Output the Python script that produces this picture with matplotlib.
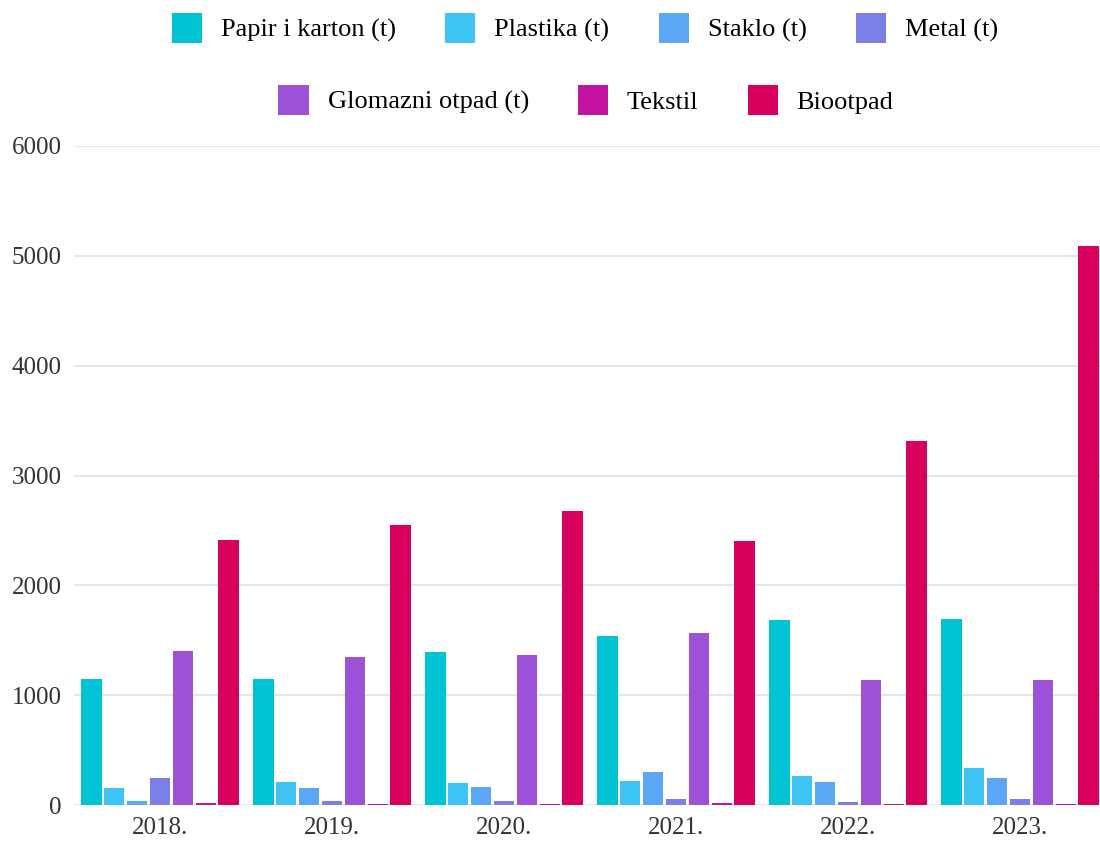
import matplotlib.pyplot as plt
import numpy as np

years = ['2018.', '2019.', '2020.', '2021.', '2022.', '2023.']
series = ['Papir i karton (t)', 'Plastika (t)', 'Staklo (t)', 'Metal (t)',
          'Glomazni otpad (t)', 'Tekstil', 'Biootpad']
papir = [1150, 1145, 1390, 1540, 1680, 1695]
plastika = [155, 205, 200, 220, 265, 335]
staklo = [36, 155, 165, 300, 210, 245]
metal = [245, 36, 36, 55, 27, 55]
glomazni = [1405, 1350, 1365, 1565, 1140, 1140]
tekstil = [15, 8, 8, 15, 5, 10]
biootpad = [2415, 2545, 2680, 2405, 3310, 5085]
colors = ['#00c4d4', '#3ec3f5', '#5ba6f5', '#7a80e8', '#9b52d6', '#c214a0', '#d8005c']

values = [papir, plastika, staklo, metal, glomazni, tekstil, biootpad]

plt.rcParams['font.family'] = ['Liberation Serif', 'DejaVu Serif']

fig = plt.figure(figsize=(11, 8.41), dpi=100)
ax = fig.add_axes([74/1100, 36/841, 1032/1100, 659/841])

x = np.arange(len(years))
pitch = 0.1337
width = 0.122
handles = []
for i, (name, vals) in enumerate(zip(series, values)):
    b = ax.bar(x + (i - 3) * pitch, vals, width, color=colors[i], label=name, zorder=3)
    handles.append(b)

ax.set_xlim(-0.5, 5.5)
ax.set_ylim(0, 6000)
ax.set_yticks(range(0, 6001, 1000))
ax.set_xticks(x)
ax.set_xticklabels(years)
ax.yaxis.grid(True, color='#e2e2e2', linewidth=1.2, zorder=0)
for s in ax.spines.values():
    s.set_visible(False)
ax.tick_params(length=0, labelsize=18, colors='#333333', pad=9)

kw = dict(frameon=False, fontsize=19, handlelength=1.14, handleheight=1.4,
          handletextpad=0.72, columnspacing=1.86, loc='center')
fig.legend(handles[:4], series[:4], ncol=4, bbox_to_anchor=(585/1100, 1 - 28/841), **kw)
fig.legend(handles[4:], series[4:], ncol=3, bbox_to_anchor=(586/1100, 1 - 100/841), **kw)

fig.savefig('out.png', dpi=100)
